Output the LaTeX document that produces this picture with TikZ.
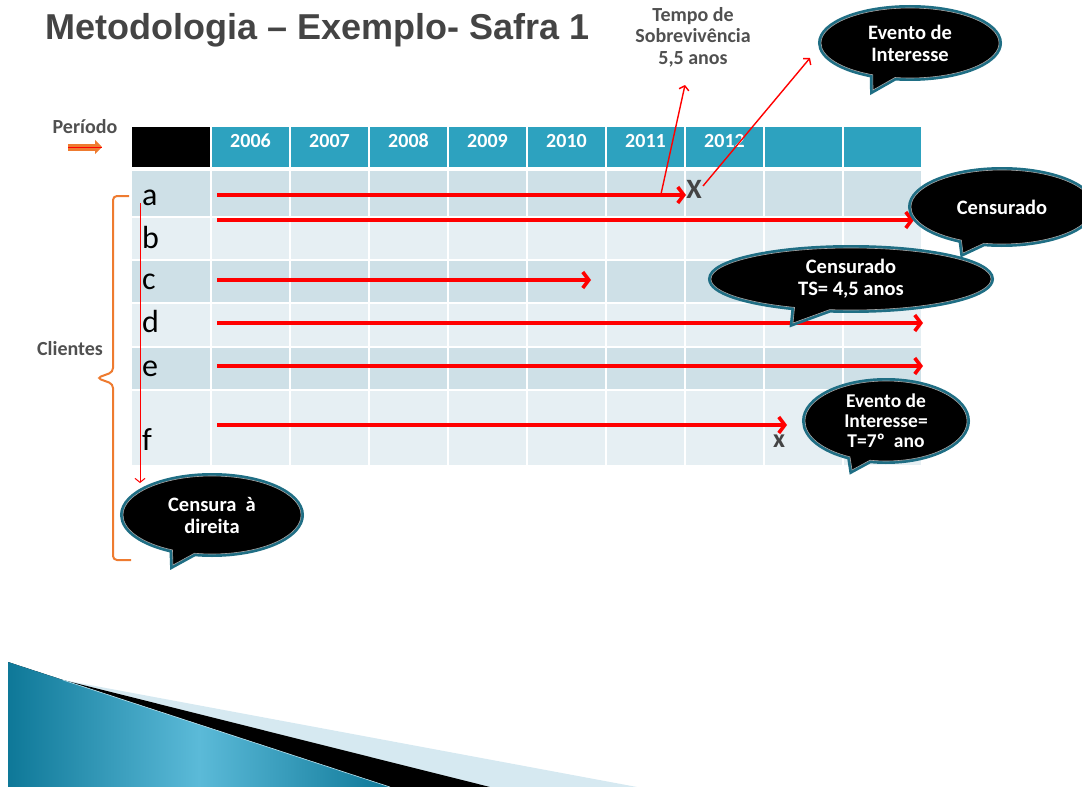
\documentclass[tikz,border=0pt]{standalone}
\usepackage{fontspec}
\setmainfont{Carlito}[Numbers=Lining]
\newfontfamily\arialfont{Liberation Sans}
\usepackage{tikz}
\usetikzlibrary{shapes.callouts,arrows.meta}

\definecolor{vermelho}{HTML}{FF0000}
\definecolor{cabecalho}{HTML}{2DA2BF}
\definecolor{linhaescura}{HTML}{CEE0E7}
\definecolor{linhaclara}{HTML}{E6EFF3}
\definecolor{cinzatexto}{HTML}{505050}
\definecolor{cinzatitulo}{HTML}{444444}
\definecolor{laranja}{HTML}{EE7B30}
\definecolor{bordabalao}{HTML}{1F6E84}
\definecolor{tealescuro}{HTML}{0E7898}
\definecolor{tealclaro}{HTML}{5BBAD8}
\definecolor{azulpalido}{HTML}{D6E9F1}

\tikzset{
	balao/.style={ellipse callout, fill=black, draw=gray!70, line width=0.6pt,
		preaction={draw=bordabalao, line width=6pt},
		text=white, align=center, inner sep=0pt,
		font=\bfseries\fontsize{20.5}{22}\selectfont},
	vida/.style={vermelho, line width=3.6pt, -{Straight Barb[length=6pt,width=16pt]}},
	seta/.style={vermelho, line width=1.4pt, -{Straight Barb[length=4pt,width=10pt]}},
	rotulo/.style={text=cinzatexto, font=\bfseries\fontsize{20}{21.5}\selectfont, align=center},
	ano/.style={anchor=base, text=white, font=\bfseries\fontsize{20}{20}\selectfont},
	cliente/.style={anchor=base west, font=\fontsize{32}{32}\selectfont, inner sep=0pt},
	marca/.style={text=cinzatitulo, font=\bfseries\fontsize{28}{28}\selectfont, inner sep=0pt},
}

\begin{document}
\begin{tikzpicture}[x=1pt,y=-1pt]
	\useasboundingbox (0,0) rectangle (1082,787);

	% faixa do rodape
	\fill[azulpalido] (8,662) -- (63,680) -- (637,787) -- (8,787) -- cycle;
	\fill[black] (8,662) -- (63,680) -- (490,787) -- (8,787) -- cycle;
	\shade[left color=tealescuro, right color=tealescuro, middle color=tealclaro] (8,662) -- (390,787) -- (8,787) -- cycle;
	\draw[white!60!tealclaro, line width=0.6pt] (63,680) -- (390,787);

	\node[anchor=west, text=cinzatitulo, font=\arialfont\bfseries\fontsize{36}{40}\selectfont] (titulo) at (42,30) {Metodologia – Exemplo- Safra 1};

	% cabecalho da tabela
	\fill[black] (132,127) rectangle (210,167);
	\foreach \ano [count=\i] in {2006,2007,2008,2009,2010,2011,2012,{},{}} {
		\fill[cabecalho] ({132+79*\i+1},127) rectangle ({132+79*(\i+1)-1},167);
		\node[ano] (ano\i) at ({132+79*(\i+0.5)},147) {\ano};
	}

	% linhas dos clientes
	\foreach \topo/\base/\cor in {171/216/linhaescura, 218/259/linhaclara, 261/302/linhaescura, 304/346/linhaclara, 348/389/linhaescura, 391/465/linhaclara} {
		\fill[\cor] (132,\topo) rectangle (210,\base);
		\foreach \j in {1,...,9}
			\fill[\cor] ({132+79*\j+1},\topo) rectangle ({132+79*(\j+1)-1},\base);
	}

	\node[cliente] (cli-a) at (142,205) {a};
	\node[cliente] (cli-b) at (142,248) {b};
	\node[cliente] (cli-c) at (142,289) {c};
	\node[cliente] (cli-d) at (142,332) {d};
	\node[cliente] (cli-e) at (142,376) {e};
	\node[cliente] (cli-f) at (142,450) {f};

	\node[rotulo] (periodo) at (85,127) {Período};
	\coordinate (per-ini) at (68,147);
	\coordinate (per-fim) at (102,147);
	\draw[laranja, line width=7pt, -{Triangle[length=7pt,width=14pt]}] (per-ini) -- (per-fim);
	\draw[vermelho, line width=0.6pt] (per-ini) -- (per-fim);

	\node[rotulo] (clientes) at (70,349) {Clientes};
	\draw[laranja, line width=2pt, rounded corners=4pt] (129,196) -- (113,196) -- (113,372) -- (97,378) -- (113,384) -- (113,560) -- (131,560);

	% tempos de vida
	\foreach \cli/\y/\fim in {a/195/686, b/220/914, c/280/591, d/323/923, e/366/923, f/425/787} {
		\coordinate (\cli-ini) at (217,\y);
		\coordinate (\cli-fim) at (\fim,\y);
		\draw[vida] (\cli-ini) -- (\cli-fim);
	}

	\node[marca] (xa) at (694,189) {X};
	\node[marca, font=\bfseries\fontsize{26}{26}\selectfont] (xf) at (779,441) {x};

	\node[rotulo] (tempo) at (693,37) {Tempo de\\Sobrevivência\\5,5 anos};
	\coordinate (ts-ini) at (661,194);
	\coordinate (ts-fim) at (685,85);
	\draw[seta] (ts-ini) -- (ts-fim);
	\coordinate (ev-ini) at (703,186);
	\coordinate (ev-fim) at (810,58);
	\draw[seta] (ev-ini) -- (ev-fim);
	\coordinate (cd-ini) at (140,203);
	\coordinate (cd-fim) at (140,483);
	\draw[seta, line width=1pt] (cd-ini) -- (cd-fim);

	% baloes
	\node[balao, minimum width=178pt, minimum height=70pt, callout absolute pointer={(873,90)}] (evento) at (910,43) {Evento de\\Interesse};
	\node[balao, minimum width=182pt, minimum height=74pt, callout absolute pointer={(963,253)}] (censurado) at (1002,207) {Censurado};
	\node[balao, minimum width=280pt, minimum height=62pt, callout absolute pointer={(793,323)}] (censts) at (851,279) {Censurado\\TS= 4,5 anos};
	\node[balao, minimum width=162pt, minimum height=80pt, callout absolute pointer={(852,470)}, font=\bfseries\fontsize{19.5}{20}\selectfont] (eventot) at (886,421) {Evento de\\Interesse=\\T=7º~ ano};
	\node[balao, minimum width=178pt, minimum height=78pt, callout absolute pointer={(173,565)}] (censdir) at (212,515) {Censura~ à\\direita};
\end{tikzpicture}
\end{document}
